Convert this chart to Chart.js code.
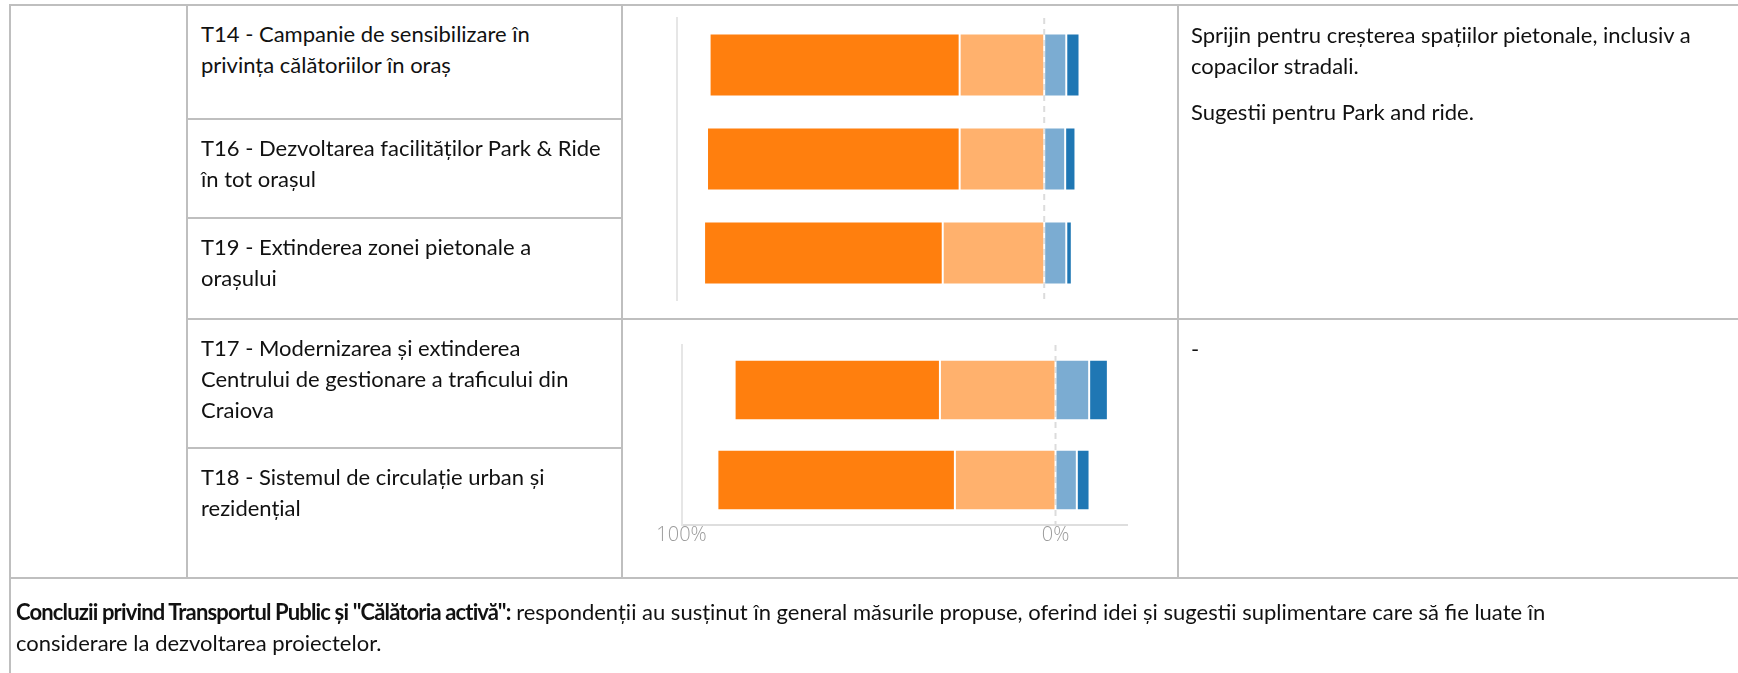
<!DOCTYPE html>
<html>
<head>
<meta charset="utf-8">
<title>Concluzii privind Transportul Public</title>
<script src="https://cdn.jsdelivr.net/npm/chart.js"></script>
<style>
  body { margin: 0; background: #fff; overflow: hidden; font-family: Lato, "Noto Sans", sans-serif; font-size: 22px; color: #111; }
  table { border-collapse: collapse; table-layout: fixed; width: 1740px; margin: 4px 0 0 9px; }
  td { border: 2px solid #bfbfbf; vertical-align: top; padding: 12px 13px 0 13px; line-height: 31px; }
  td.chart { padding: 0; }
  td.note { padding-left: 12px; padding-top: 13px; }
  td.concl { padding: 17px 0 0 5px; }
  td.concl b { letter-spacing: -0.85px; }
  p { margin: 0 0 15px 0; }
  canvas { display: block; }
</style>
</head>
<body>
<table>
  <colgroup>
    <col style="width:177px"><col style="width:435px"><col style="width:556px"><col style="width:572px">
  </colgroup>
  <tr style="height:114px">
    <td rowspan="5"></td>
    <td>T14 - Campanie de sensibilizare în<br>privința călătoriilor în oraș</td>
    <td class="chart" rowspan="3"><canvas id="chartTop" width="554" height="312"></canvas></td>
    <td class="note" rowspan="3"><p>Sprijin pentru creșterea spațiilor pietonale, inclusiv a<br>copacilor stradali.</p><p>Sugestii pentru Park and ride.</p></td>
  </tr>
  <tr style="height:99px">
    <td>T16 - Dezvoltarea facilităților Park &amp; Ride<br>în tot orașul</td>
  </tr>
  <tr style="height:101px">
    <td>T19 - Extinderea zonei pietonale a<br>orașului</td>
  </tr>
  <tr style="height:129px">
    <td>T17 - Modernizarea și extinderea<br>Centrului de gestionare a traficului din<br>Craiova</td>
    <td class="chart" rowspan="2"><canvas id="chartBottom" width="554" height="257"></canvas></td>
    <td class="note" rowspan="2">-</td>
  </tr>
  <tr style="height:130px">
    <td>T18 - Sistemul de circulație urban și<br>rezidențial</td>
  </tr>
  <tr style="height:110px">
    <td class="concl" colspan="4"><b>Concluzii privind Transportul Public și "Călătoria activă":</b> respondenții au susținut în general măsurile propuse, oferind idei și sugestii suplimentare care să fie luate în<br>considerare la dezvoltarea proiectelor.</td>
  </tr>
</table>
<script>
  // percentages (orange drawn left of 0, blue right of 0)
  const topItems = ['T14', 'T16', 'T19'];
  const topStrong = [68.0, 68.7, 64.9];
  const topAgree = [23.0, 23.0, 27.6];
  const topDisagree = [6.0, 5.7, 6.0];
  const topStrongDisagree = [3.6, 2.8, 1.5];

  const bottomItems = ['T17', 'T18'];
  const bottomStrong = [54.9, 63.5];
  const bottomAgree = [30.9, 26.9];
  const bottomDisagree = [9.0, 5.7];
  const bottomStrongDisagree = [5.0, 3.4];

  const tickValues = [-100, 0];
  const tickLabels = ['100%', '0%'];

  const colors = ['#ffb16d', '#ff7f0e', '#7bacd2', '#1f77b4'];

  // dashed line at 0
  const zeroLine = {
    id: 'zeroLine',
    beforeDatasetsDraw(chart) {
      const { ctx, chartArea, scales } = chart;
      const x = scales.x.getPixelForValue(0);
      ctx.save();
      ctx.strokeStyle = '#dcdcdc';
      ctx.lineWidth = 2;
      ctx.setLineDash([6, 5]);
      ctx.beginPath();
      ctx.moveTo(x, chartArea.top);
      ctx.lineTo(x, chartArea.bottom);
      ctx.stroke();
      ctx.restore();
    }
  };

  function makeDatasets(agree, strong, disagree, strongDis) {
    const sets = [
      agree.map(v => -v),
      strong.map(v => -v),
      disagree,
      strongDis
    ];
    return sets.map((d, i) => ({
      data: d,
      backgroundColor: colors[i],
      borderColor: 'rgba(255,255,255,0.22)',
      borderWidth: 1,
      borderSkipped: false,
      categoryPercentage: 1,
      barPercentage: 0.67
    }));
  }

  function makeChart(id, items, datasets, showAxis, padding) {
    return new Chart(document.getElementById(id), {
      type: 'bar',
      data: { labels: items, datasets: datasets },
      options: {
        indexAxis: 'y',
        responsive: false,
        animation: false,
        layout: { padding: padding },
        plugins: { legend: { display: false }, tooltip: { enabled: false } },
        scales: {
          x: {
            stacked: true,
            min: -100,
            max: 19.25,
            display: showAxis,
            afterBuildTicks: axis => { axis.ticks = tickValues.map(v => ({ value: v })); },
            ticks: {
              autoSkip: false,
              maxRotation: 0,
              padding: 0,
              color: '#9c9c9c',
              font: { family: 'Open Sans', weight: '300', size: 20, lineHeight: 1 },
              callback: v => tickLabels[tickValues.indexOf(v)]
            },
            grid: { display: false, drawTicks: false },
            border: { color: '#dedede', width: 2 }
          },
          y: {
            stacked: true,
            ticks: { display: false },
            grid: { display: false, drawTicks: false },
            border: { color: '#e6e6e6', width: 2 }
          }
        }
      },
      plugins: [zeroLine]
    });
  }

  makeChart('chartTop', topItems,
    makeDatasets(topAgree, topStrong, topDisagree, topStrongDisagree),
    false, { left: 53.5, right: 62, top: 12, bottom: 18 });

  makeChart('chartBottom', bottomItems,
    makeDatasets(bottomAgree, bottomStrong, bottomDisagree, bottomStrongDisagree),
    true, { left: 58.5, right: 49.5, top: 25, bottom: 32 });
</script>
</body>
</html>
